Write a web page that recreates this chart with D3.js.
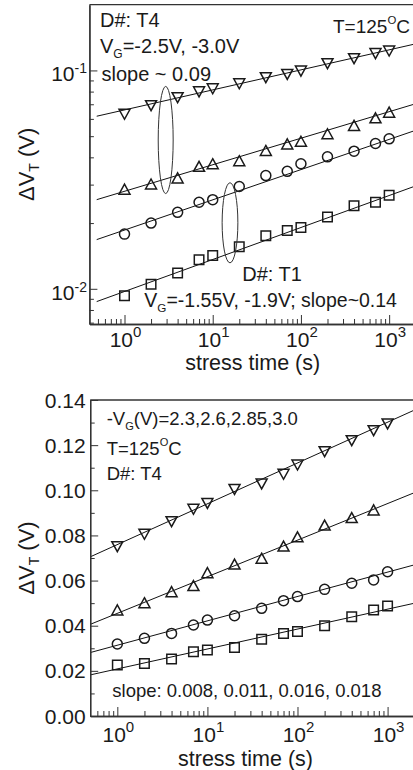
<!DOCTYPE html>
<html><head><meta charset="utf-8">
<script src="https://cdn.jsdelivr.net/npm/d3@7"></script>
<style>
body{margin:0;background:#fff}
svg text{font-family:"Liberation Sans",Arial,sans-serif;fill:#1a1a1a}
</style>
</head><body>
<svg id="c" width="413" height="770"></svg>
<script>
// ---------- data ----------
const stressTime = [1,2,4,7,10,20,40,70,100,200,400,700,1000];
// top panel (log-log)
const topDownTri = [0.063,0.069,0.075,0.0798,0.0824,0.0869,0.0926,0.0959,0.0993,0.1074,0.1132,0.1194,0.1227];
const topUpTri   = [0.0286,0.0302,0.0322,0.0364,0.0374,0.0386,0.0430,0.0461,0.0474,0.0513,0.0560,0.0607,0.0644];
const topCircle  = [0.0178,0.0200,0.0224,0.0249,0.0256,0.0294,0.0330,0.0345,0.0374,0.0402,0.0427,0.0463,0.0486];
const topSquare  = [0.0093,0.0105,0.0118,0.0136,0.0142,0.0156,0.0175,0.0185,0.0191,0.0213,0.0240,0.0249,0.0268];
const topFitT = [0.484, 2000];
const topFitDown = [0.0617, 0.1324];
const topFitUp = [0.0256, 0.0704];
const topFitCircle = [0.0168, 0.0532];
const topFitSquare = [0.00874, 0.0296];
// ellipses: [tLeft, tCenter, tRight, vTop, vBottom]
const topEllipses = [[2.41, 2.93, 3.56, 0.0845, 0.0273],[12.8, 15.7, 19.3, 0.0306, 0.01315]];
const topYMajor = [0.01, 0.1];
const topYMajorLabels = ["-2", "-1"];
const topYMinor = [0.007,0.008,0.009,0.02,0.03,0.04,0.05,0.06,0.07,0.08,0.09];
const xMajor = [1,10,100,1000];
const xMajorLabels = ["0","1","2","3"];
const topXMinor = [0.5,0.6,0.7,0.8,0.9,2,3,4,5,6,7,8,9,20,30,40,50,60,70,80,90,200,300,400,500,600,700,800,900];
// bottom panel (lin-log)
const botDownTri = [0.0750,0.0805,0.0861,0.0916,0.0942,0.1004,0.1028,0.1071,0.1112,0.1171,0.1220,0.1264,0.1294];
const botUpTri   = [0.0470,0.0502,0.0551,0.0578,0.0635,0.0673,0.0699,0.0753,0.0794,0.0846,0.0879,0.0913];
const botCircle  = [0.0319,0.0344,0.0366,0.0403,0.0425,0.0444,0.0477,0.0511,0.0529,0.0561,0.0588,0.0603,0.0639];
const botSquare  = [0.0226,0.0233,0.0253,0.0285,0.0292,0.0304,0.0340,0.0366,0.0374,0.0400,0.0440,0.0470,0.0487];
const botFitT = [0.5, 2000];
const botFitDown = [0.0705, 0.1356];
const botFitUp = [0.0406, 0.0990];
const botFitCircle = [0.0281, 0.0670];
const botFitSquare = [0.0182, 0.0500];
const botYMajor = [0,0.02,0.04,0.06,0.08,0.10,0.12,0.14];
const botYMajorLabels = ["0.00","0.02","0.04","0.06","0.08","0.10","0.12","0.14"];
const botYMinor = [0.01,0.03,0.05,0.07,0.09,0.11,0.13];
const botXMinor = [0.6,0.7,0.8,0.9,2,3,4,5,6,7,8,9,20,30,40,50,60,70,80,90,200,300,400,500,600,700,800,900];

// ---------- drawing ----------
const svg = d3.select("#c");
const INK = "#1a1a1a";

function marker(kind){
  const w = 11, h = 10, s = 9.5, r = 5;
  if (kind === "down") return `M${-w/2},${-h/2}L${w/2},${-h/2}L0,${h/2}Z`;
  if (kind === "up") return `M0,${-h/2}L${w/2},${h/2}L${-w/2},${h/2}Z`;
  if (kind === "square") return `M${-s/2},${-s/2}h${s}v${s}h${-s}Z`;
  return d3.symbol(d3.symbolCircle, Math.PI*r*r)();
}

function panel(cfg){
  const g = svg.append("g");
  const {x, y} = cfg;
  const [x0, x1] = x.range();
  const [y0, y1] = y.range(); // y0 bottom, y1 top
  const clipId = "clip" + cfg.id;
  svg.append("clipPath").attr("id", clipId).append("rect")
    .attr("x", x0).attr("y", y1).attr("width", x1 - x0).attr("height", y0 - y1);
  const plot = g.append("g").attr("clip-path", `url(#${clipId})`);

  // fit lines
  const line = d3.line().x(d => x(d[0])).y(d => y(d[1]));
  cfg.fits.forEach(f => {
    plot.append("path").attr("d", line(cfg.fitT.map((t, i) => [t, f[i]])))
      .attr("fill", "none").attr("stroke", "#111").attr("stroke-width", 1);
  });
  // markers
  cfg.series.forEach(s => {
    plot.selectAll(null).data(s.values).enter().append("path")
      .attr("d", marker(s.kind))
      .attr("transform", (v, i) => `translate(${x(stressTime[i])},${y(v)})`)
      .attr("fill", "none").attr("stroke", INK).attr("stroke-width", 1.5);
  });
  // ellipses
  (cfg.ellipses || []).forEach(e => {
    const cx = x(e[1]), rx = (x(e[2]) - x(e[0])) / 2;
    const ya = y(e[3]), yb = y(e[4]);
    plot.append("ellipse").attr("cx", cx).attr("cy", (ya + yb) / 2)
      .attr("rx", rx).attr("ry", (yb - ya) / 2)
      .attr("fill", "none").attr("stroke", "#333").attr("stroke-width", 1);
  });

  // axes
  const axisStyle = sel => {
    sel.selectAll("path.domain").attr("stroke", "#333").attr("stroke-width", 1.3);
    sel.selectAll(".tick line").attr("stroke", "#333").attr("stroke-width", 1);
  };
  g.append("g").attr("transform", `translate(${x0},0)`)
    .call(d3.axisLeft(y).tickValues(cfg.yMajor).tickSize(-8).tickSizeOuter(0).tickFormat(""))
    .call(axisStyle);
  g.append("g").attr("transform", `translate(${x0},0)`)
    .call(d3.axisLeft(y).tickValues(cfg.yMinor).tickSize(-4.5).tickSizeOuter(0).tickFormat(""))
    .call(axisStyle);
  g.append("g").attr("transform", `translate(0,${y0})`)
    .call(d3.axisBottom(x).tickValues(xMajor).tickSize(-9).tickSizeOuter(0).tickFormat(""))
    .call(axisStyle);
  g.append("g").attr("transform", `translate(0,${y0})`)
    .call(d3.axisBottom(x).tickValues(cfg.xMinor).tickSize(-5).tickSizeOuter(0).tickFormat(""))
    .call(axisStyle);
  // top frame line
  g.append("line").attr("x1", x0).attr("x2", x1 + 10).attr("y1", y1).attr("y2", y1)
    .attr("stroke", "#333").attr("stroke-width", 1.3);

  // x tick labels 10^n
  xMajor.forEach((t, i) => {
    const tx = g.append("text").attr("x", x(t) + 1).attr("y", cfg.xLabelY)
      .attr("text-anchor", "middle").attr("font-size", 21);
    tx.append("tspan").text("10");
    tx.append("tspan").attr("dy", -10).attr("font-size", 15).text(xMajorLabels[i]);
  });
  // x title
  g.append("text").attr("x", cfg.xTitleX).attr("y", cfg.xTitleY).attr("text-anchor", "middle")
    .attr("font-size", 21.5).text("stress time (s)");
  // y labels
  cfg.yLabels(g);
  // y title
  const yt = g.append("text").attr("transform", `translate(34,${(y0 + y1) / 2}) rotate(-90)`)
    .attr("text-anchor", "middle").attr("font-size", 22);
  yt.append("tspan").text("\u0394V");
  yt.append("tspan").attr("dy", 5).attr("font-size", 14).text("T");
  yt.append("tspan").attr("dy", -5).text(" (V)");
  return g;
}

function vgText(g, xx, yy, size, pre, post){
  const t = g.append("text").attr("x", xx).attr("y", yy).attr("font-size", size);
  t.append("tspan").text(pre + "V");
  t.append("tspan").attr("dy", 5).attr("font-size", size * 0.6).text("G");
  t.append("tspan").attr("dy", -5).text(post);
}
function tempText(g, xx, yy, size){
  const t = g.append("text").attr("x", xx).attr("y", yy).attr("font-size", size);
  t.append("tspan").text("T=125");
  t.append("tspan").attr("dy", -9).attr("font-size", size * 0.6).text("O");
  t.append("tspan").attr("dy", 9).text("C");
}

// top panel
const xTop = d3.scaleLog().domain([0.4, 2000]).range([89.4, 415.7]);
const yTop = d3.scaleLog().domain([0.0069, 0.2]).range([324, 4.7]);
const gTop = panel({
  id: "top", x: xTop, y: yTop,
  fitT: topFitT, fits: [topFitDown, topFitUp, topFitCircle, topFitSquare],
  series: [{kind:"down", values: topDownTri},{kind:"up", values: topUpTri},
           {kind:"circle", values: topCircle},{kind:"square", values: topSquare}],
  ellipses: topEllipses,
  yMajor: topYMajor, yMinor: topYMinor, xMinor: topXMinor,
  xLabelY: 347, xTitleX: 252.7, xTitleY: 370,
  yLabels: g => topYMajor.forEach((v, i) => {
    const t = g.append("text").attr("x", 87).attr("y", yTop(v) + 11)
      .attr("text-anchor", "end").attr("font-size", 21);
    t.append("tspan").text("10");
    t.append("tspan").attr("dy", -8).attr("font-size", 14).text(topYMajorLabels[i]);
  })
});
gTop.append("text").attr("x", 100).attr("y", 26.7).attr("font-size", 20).text("D#: T4");
vgText(gTop, 100, 53.3, 20, "", "=-2.5V, -3.0V");
gTop.append("text").attr("x", 101.5).attr("y", 80.5).attr("font-size", 20).text("slope ~ 0.09");
tempText(gTop, 333, 33.3, 19);
gTop.append("text").attr("x", 242.3).attr("y", 280.7).attr("font-size", 20).text("D#: T1");
vgText(gTop, 144.3, 306.7, 19.5, "", "=-1.55V, -1.9V; slope~0.14");

// bottom panel
const xBot = d3.scaleLog().domain([0.5, 2000]).range([90.2, 414.7]);
const yBot = d3.scaleLinear().domain([0, 0.14]).range([716, 400]);
const gBot = panel({
  id: "bot", x: xBot, y: yBot,
  fitT: botFitT, fits: [botFitDown, botFitUp, botFitCircle, botFitSquare],
  series: [{kind:"down", values: botDownTri},{kind:"up", values: botUpTri},
           {kind:"circle", values: botCircle},{kind:"square", values: botSquare}],
  yMajor: botYMajor, yMinor: botYMinor, xMinor: botXMinor,
  xLabelY: 741.5, xTitleX: 245.5, xTitleY: 765.5,
  yLabels: g => botYMajor.forEach((v, i) => {
    g.append("text").attr("x", 85.7).attr("y", yBot(v) + 7.5)
      .attr("text-anchor", "end").attr("font-size", 21).text(botYMajorLabels[i]);
  })
});
vgText(gBot, 106.7, 425, 18.5, "-", "(V)=2.3,2.6,2.85,3.0");
tempText(gBot, 106.7, 455, 18.5);
gBot.append("text").attr("x", 106.7).attr("y", 480).attr("font-size", 18.5).text("D#: T4");
gBot.append("text").attr("x", 112.3).attr("y", 696.7).attr("font-size", 18.5).text("slope: 0.008, 0.011, 0.016, 0.018");
</script>
</body></html>
